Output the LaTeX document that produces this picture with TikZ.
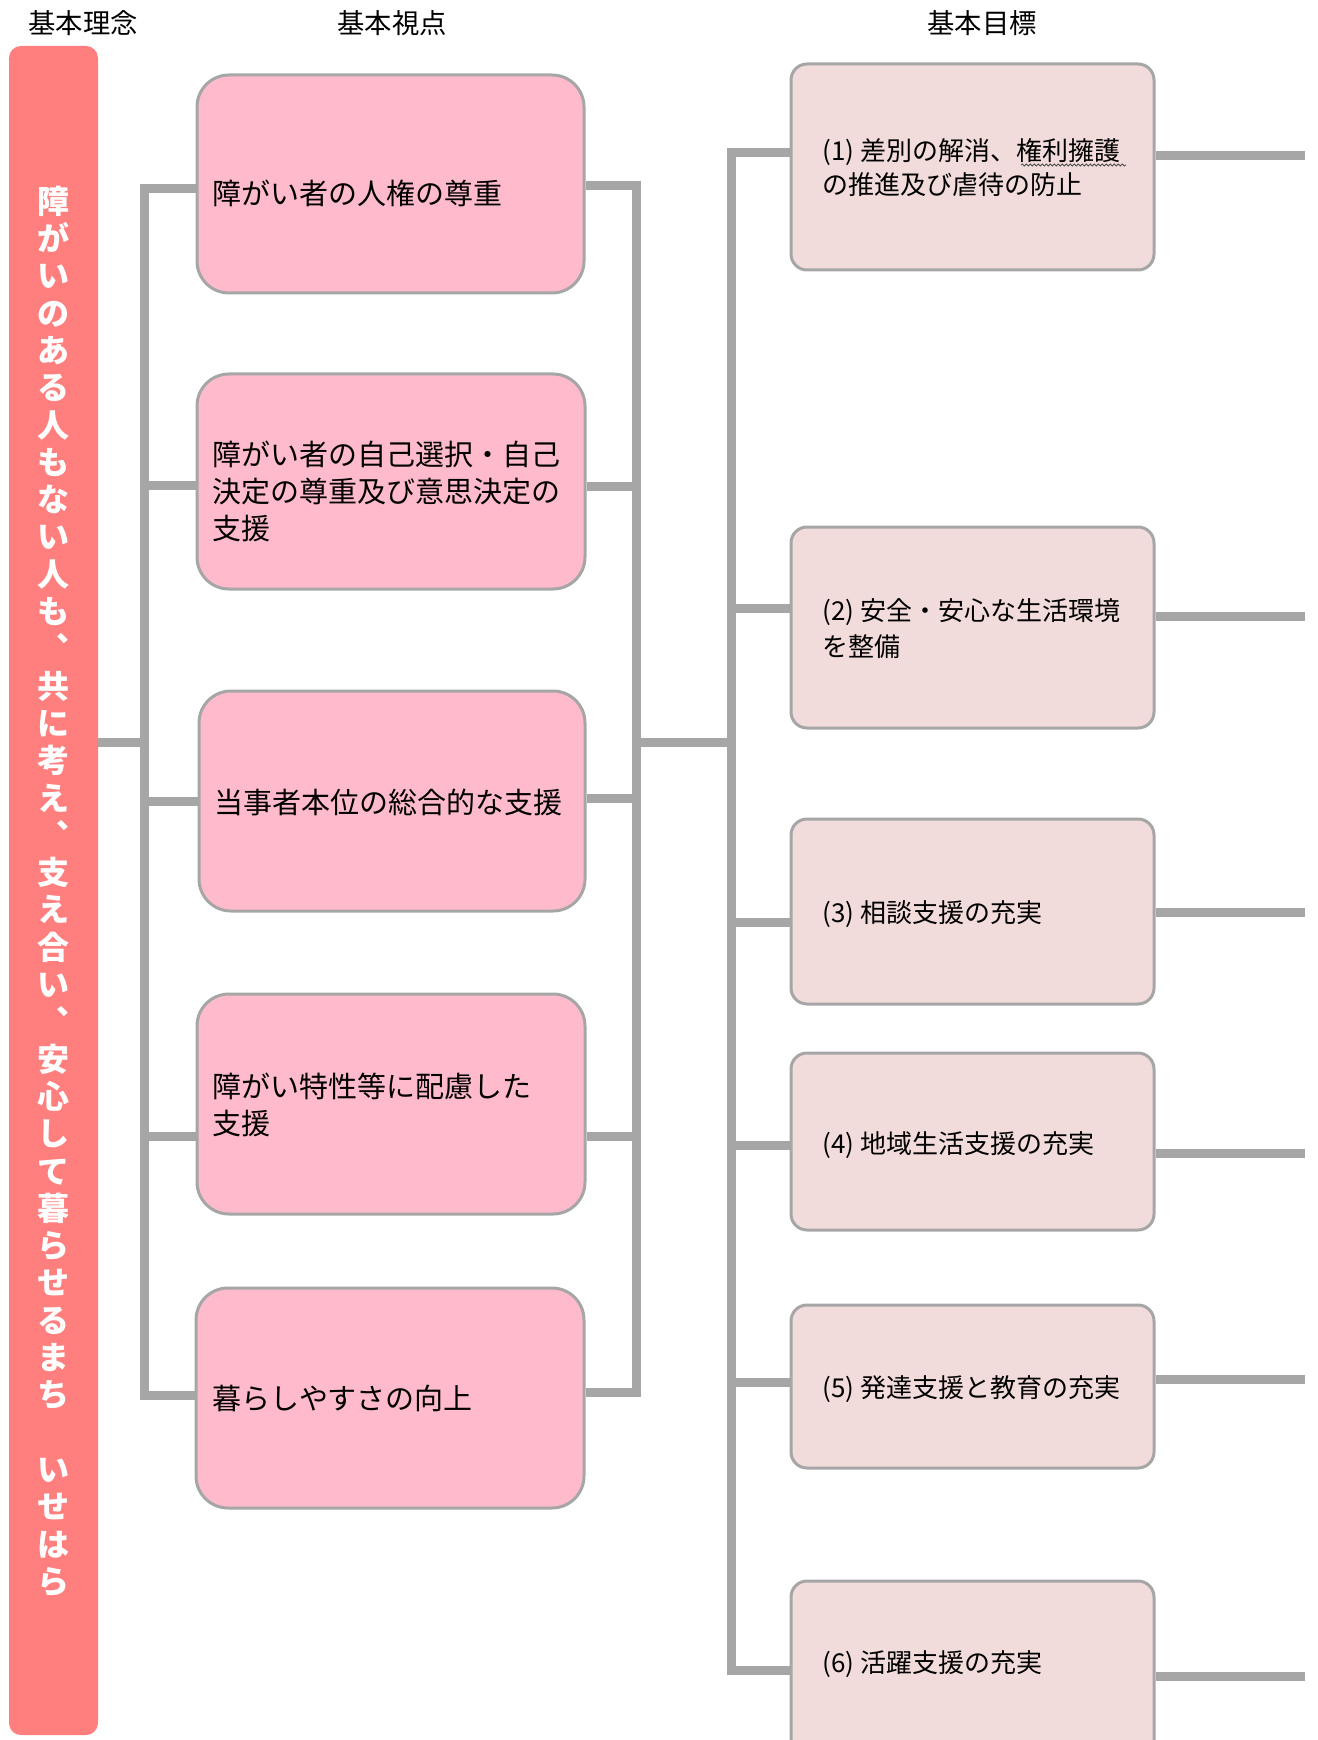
\documentclass[tikz,border=0pt]{standalone}
\usepackage{fontspec}
\newfontfamily\jp{Noto Sans CJK JP}
\usetikzlibrary{backgrounds,fit,decorations.pathmorphing}
\definecolor{barred}{HTML}{FF7F7F}
\definecolor{vpfill}{HTML}{FFBBCC}
\definecolor{goalfill}{HTML}{F2DCDB}
\definecolor{linegray}{HTML}{A6A6A6}
\begin{document}
\begin{tikzpicture}[x=0.75pt,y=-0.75pt,
  bus/.style={draw=linegray, line width=6.75pt, line join=miter},
  vpbox/.style={draw=linegray, line width=2.25pt, fill=vpfill, rounded corners=24pt, inner sep=0pt},
  goalbox/.style={draw=linegray, line width=2.25pt, fill=goalfill, rounded corners=12pt, inner sep=0pt},
  barbox/.style={fill=barred, rounded corners=9pt, inner sep=0pt},
  vptext/.style={anchor=base west, inner sep=0pt, font=\jp\fontsize{21.75}{26}\selectfont},
  goaltext/.style={anchor=base west, inner sep=0pt, font=\jp\fontsize{19.5}{24}\selectfont},
  titletext/.style={anchor=base, inner sep=0pt, font=\jp\fontsize{20.5}{24}\selectfont},
  vchar/.style={anchor=base, inner sep=0pt, text=white, font=\jp\bfseries\fontsize{24}{28}\selectfont}]
\useasboundingbox (0,0) rectangle (1317,1740);

% titles
\node[titletext] (t1) at (83,34) {基本理念};
\node[titletext] (t2) at (392,34) {基本視点};
\node[titletext] (t3) at (982,34) {基本目標};

% basic ideal bar
\node[barbox, fit={(9,46) (98,1735)}] (ideal) {};
\foreach \ch [count=\i from 0] in {障,が,い,の,あ,る,人,も,な,い,人,も,︑,共,に,考,え,︑,支,え,合,い,︑,安,心,し,て,暮,ら,せ,る,ま,ち,{},い,せ,は,ら}
  \node[vchar] (ch\i) at (53.5,{213.2+37.3*\i}) {\ch};

% viewpoint boxes
\node[vpbox, fit={(197,75) (584,293)}] (v1) {};
\node[vpbox, fit={(197,374) (585,589)}] (v2) {};
\node[vpbox, fit={(199,691) (585,911)}] (v3) {};
\node[vpbox, fit={(197,994) (585,1214)}] (v4) {};
\node[vpbox, fit={(196,1288) (584,1508)}] (v5) {};

\node[vptext] (v1a) at (212,205) {障がい者の人権の尊重};
\node[vptext] (v2a) at (212,465) {障がい者の自己選択・自己};
\node[vptext] (v2b) at (212,502) {決定の尊重及び意思決定の};
\node[vptext] (v2c) at (212,539) {支援};
\node[vptext] (v3a) at (214,813) {当事者本位の総合的な支援};
\node[vptext] (v4a) at (212,1097) {障がい特性等に配慮した};
\node[vptext] (v4b) at (212,1134) {支援};
\node[vptext] (v5a) at (212,1409) {暮らしやすさの向上};

% goal boxes
\node[goalbox, fit={(791,64) (1154,270)}] (g1) {};
\node[goalbox, fit={(791,527) (1154,728)}] (g2) {};
\node[goalbox, fit={(791,819) (1154,1004)}] (g3) {};
\node[goalbox, fit={(791,1053) (1154,1230)}] (g4) {};
\node[goalbox, fit={(791,1305) (1154,1468)}] (g5) {};
\node[goalbox, fit={(791,1581) (1154,1766)}] (g6) {};

\node[goaltext] (g1a) at (822,161) {(1) 差別の解消、権利擁護};
\node[goaltext] (g1b) at (822,195) {の推進及び虐待の防止};
\node[goaltext] (g2a) at (822,620) {(2) 安全・安心な生活環境};
\node[goaltext] (g2b) at (822,656) {を整備};
\node[goaltext] (g3a) at (822,922) {(3) 相談支援の充実};
\node[goaltext] (g4a) at (822,1153) {(4) 地域生活支援の充実};
\node[goaltext] (g5a) at (822,1397) {(5) 発達支援と教育の充実};
\node[goaltext] (g6a) at (822,1672) {(6) 活躍支援の充実};
\draw[black!70, line width=0.6pt, decorate, decoration={snake, segment length=3pt, amplitude=0.8pt}] (1021,165) -- (1126,165);

% connectors
\begin{scope}[on background layer]
\coordinate (L0) at (144,742);
\coordinate (L1) at (144,189);
\coordinate (L2) at (144,485);
\coordinate (L3) at (144,801);
\coordinate (L4) at (144,1136);
\coordinate (L5) at (144,1395);
\coordinate (R0) at (636,742);
\coordinate (R1) at (636,186);
\coordinate (R2) at (636,486);
\coordinate (R3) at (636,798);
\coordinate (R4) at (636,1136);
\coordinate (R5) at (636,1392);
\coordinate (G0) at (731,742);
\coordinate (G1) at (731,153);
\coordinate (G2) at (731,608);
\coordinate (G3) at (731,922);
\coordinate (G4) at (731,1145);
\coordinate (G5) at (731,1382);
\coordinate (G6) at (731,1670);
\coordinate (E1) at (1305,156);
\coordinate (E2) at (1305,616);
\coordinate (E3) at (1305,912);
\coordinate (E4) at (1305,1153);
\coordinate (E5) at (1305,1379);
\coordinate (E6) at (1305,1676);

\draw[bus] (L0 -| ideal.east) -- (L0);
\draw[bus] (L1 -| v1.west) -- (L1) -- (L5) -- (L5 -| v5.west);
\draw[bus] (L2) -- (L2 -| v2.west);
\draw[bus] (L3) -- (L3 -| v3.west);
\draw[bus] (L4) -- (L4 -| v4.west);

\draw[bus] (R1 -| v1.east) -- (R1) -- (R5) -- (R5 -| v5.east);
\draw[bus] (R2 -| v2.east) -- (R2);
\draw[bus] (R3 -| v3.east) -- (R3);
\draw[bus] (R4 -| v4.east) -- (R4);
\draw[bus] (R0) -- (G0);

\draw[bus] (G1 -| g1.west) -- (G1) -- (G6) -- (G6 -| g6.west);
\draw[bus] (G2) -- (G2 -| g2.west);
\draw[bus] (G3) -- (G3 -| g3.west);
\draw[bus] (G4) -- (G4 -| g4.west);
\draw[bus] (G5) -- (G5 -| g5.west);

\draw[bus] (E1 -| g1.east) -- (E1);
\draw[bus] (E2 -| g2.east) -- (E2);
\draw[bus] (E3 -| g3.east) -- (E3);
\draw[bus] (E4 -| g4.east) -- (E4);
\draw[bus] (E5 -| g5.east) -- (E5);
\draw[bus] (E6 -| g6.east) -- (E6);
\end{scope}
\end{tikzpicture}
\end{document}
